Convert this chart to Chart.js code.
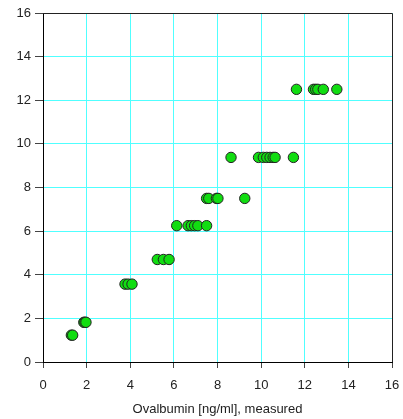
<!DOCTYPE html>
<html>
<head>
<meta charset="utf-8">
<script src="https://cdn.jsdelivr.net/npm/chart.js@4"></script>
<style>
  html, body { margin: 0; padding: 0; background: #fff; }
  #wrap { width: 403px; height: 419px; }
</style>
</head>
<body>
<div id="wrap"><canvas id="ova"></canvas></div>
<script>
// measured x values, grouped by the nominal (y) level
const levels = [1.23, 1.82, 3.57, 4.7, 6.25, 7.5, 9.38, 12.5];
const measured = [
  [1.3, 1.36],
  [1.87, 1.92, 1.97],
  [3.76, 3.9, 4.08],
  [5.24, 5.52, 5.78],
  [6.13, 6.65, 6.8, 6.95, 7.1, 7.5],
  [7.5, 7.6, 7.95, 8.02, 9.25],
  [8.62, 9.88, 10.1, 10.26, 10.41, 10.55, 10.64, 11.48],
  [11.62, 12.4, 12.5, 12.6, 12.85, 13.47]
];
const ticks = [0, 2, 4, 6, 8, 10, 12, 14, 16];

const points = [];
levels.forEach((y, i) => {
  measured[i].forEach(x => points.push({ x: x, y: y }));
});

// top and right frame lines
const frame = {
  id: 'frame',
  afterDraw(chart) {
    const { ctx, chartArea: a } = chart;
    ctx.save();
    ctx.strokeStyle = '#222';
    ctx.lineWidth = 1;
    ctx.beginPath();
    ctx.moveTo(a.left, a.top + 0.5);
    ctx.lineTo(a.right + 0.5, a.top + 0.5);
    ctx.lineTo(a.right + 0.5, a.bottom);
    ctx.stroke();
    ctx.restore();
  }
};

const font = { family: 'Liberation Sans, Arial, sans-serif', size: 13 };

new Chart(document.getElementById('ova'), {
  type: 'scatter',
  data: {
    datasets: [{
      data: points,
      backgroundColor: '#11dd11',
      borderColor: '#222',
      borderWidth: 1,
      pointRadius: 5.2,
      pointHoverRadius: 5.2
    }]
  },
  options: {
    responsive: true,
    maintainAspectRatio: false,
    animation: false,
    layout: { padding: { top: 13, right: 11, left: 0, bottom: 0 } },
    plugins: { legend: { display: false }, tooltip: { enabled: false } },
    scales: {
      x: {
        min: 0, max: 16,
        afterBuildTicks: s => { s.ticks = ticks.map(v => ({ value: v })); },
        grid: { color: '#50ffff', tickColor: '#444', tickLength: 6 },
        border: { color: '#000', width: 1 },
        ticks: { color: '#222', font: font, padding: 10, maxRotation: 0 },
        title: { display: true, text: 'Ovalbumin [ng/ml], measured', color: '#222', font: font, padding: { top: 8, bottom: 2 } },
        afterFit: s => { s.height = 57; s.paddingLeft = 0; s.paddingRight = 0; }
      },
      y: {
        min: 0, max: 16,
        afterBuildTicks: s => { s.ticks = ticks.map(v => ({ value: v })); },
        grid: { color: '#50ffff', tickColor: '#444', tickLength: 8 },
        border: { color: '#000', width: 1 },
        ticks: { color: '#222', font: font, padding: 4 },
        afterFit: s => { s.width = 43; s.paddingTop = 0; s.paddingBottom = 0; }
      }
    }
  },
  plugins: [frame]
});
</script>
</body>
</html>
